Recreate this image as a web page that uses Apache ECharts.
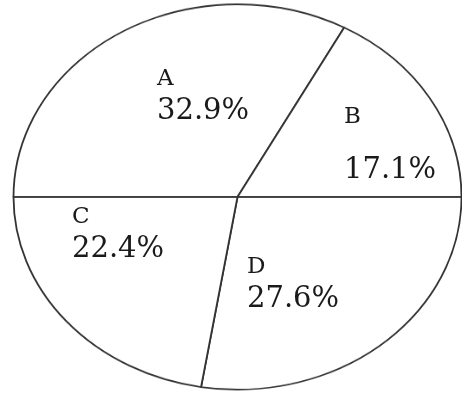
<!DOCTYPE html>
<html>
<head>
<meta charset="utf-8">
<script src="https://cdn.jsdelivr.net/npm/echarts@6/dist/echarts.min.js"></script>
<style>
  html, body { margin: 0; padding: 0; background: #fff; }
  .wrap { position: relative; width: 462px; height: 396px; overflow: hidden; }
  /* the pie is drawn round, then squashed into the ellipse of the picture */
  #pie { position: absolute; left: 0; top: 0; width: 462px; height: 461px;
         transform: scaleY(0.86); transform-origin: 0 0; }
  #labels { position: absolute; left: 0; top: 0; width: 462px; height: 396px; }
</style>
</head>
<body>
<div class="wrap">
  <div id="pie"></div>
  <div id="labels"></div>
</div>
<script>
// slices, clockwise from the left edge
const categories = ['A', 'B', 'D', 'C']
const shares = [32.9, 17.1, 27.6, 22.4]

// top-left corner of each label block, same order as above
const labelX = [157, 344, 247, 72]
const labelY = [63, 80, 251, 201]

const pieData = categories.map((name, i) => ({ name: name, value: shares[i] }))

const fontFamily = '"DejaVu Serif", serif'
const rich = {
  n: { fontSize: 23, lineHeight: 32, color: '#1a1a1a', fontFamily: fontFamily },
  v: { fontSize: 29, lineHeight: 32, color: '#1a1a1a', fontFamily: fontFamily },
}
// B has a wider gap between name and value
const richWide = {
  n: Object.assign({}, rich.n, { lineHeight: 74 }),
  v: rich.v,
}

// ================= pie (ellipse) =================
const pieChart = echarts.init(document.getElementById('pie'))
pieChart.setOption({
  animation: false,
  series: [
    {
      type: 'pie',
      center: [237.5, 229],
      radius: 224,
      startAngle: 180,
      clockwise: true,
      silent: true,
      data: pieData,
      label: { show: false },
      labelLine: { show: false },
      itemStyle: { color: '#fff', borderColor: '#333', borderWidth: 1.8 },
    },
  ],
})

// ================= labels (not squashed) =================
const labelChart = echarts.init(document.getElementById('labels'))
labelChart.setOption({
  animation: false,
  series: [
    {
      type: 'pie',
      center: [237.5, 197],
      radius: 190,
      startAngle: 180,
      clockwise: true,
      silent: true,
      data: pieData.map((d) => ({
        name: d.name,
        value: d.value,
        label: { rich: d.name === 'B' ? richWide : rich },
      })),
      itemStyle: { color: 'rgba(0,0,0,0)', borderWidth: 0 },
      labelLine: { show: false },
      label: {
        show: true,
        position: 'inside',
        formatter: '{n|{b}}\n{v|{c}%}',
        rich: rich,
      },
      labelLayout: (params) => ({
        x: labelX[params.dataIndex],
        y: labelY[params.dataIndex],
        align: 'left',
        verticalAlign: 'top',
      }),
    },
  ],
})
</script>
</body>
</html>
